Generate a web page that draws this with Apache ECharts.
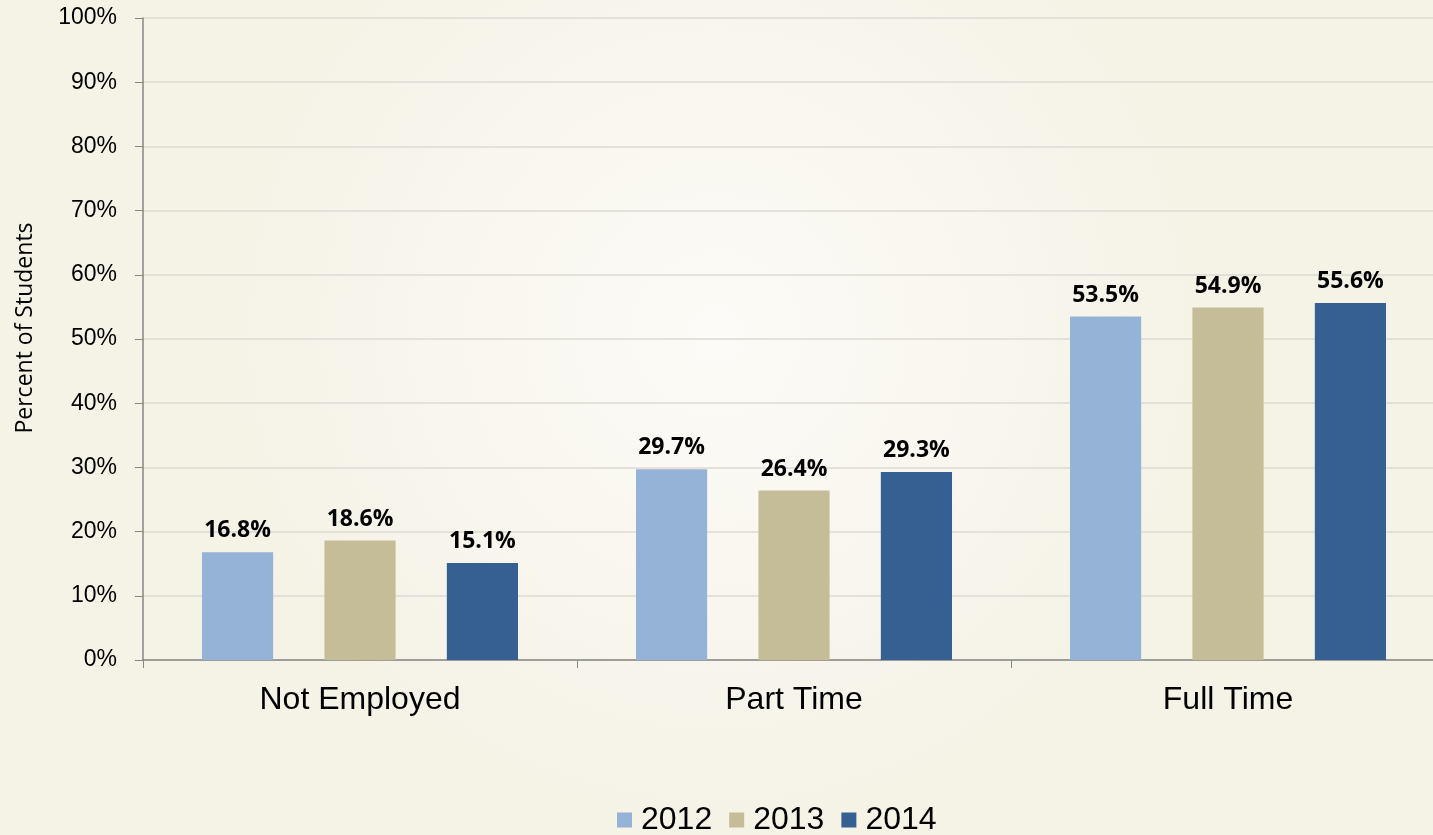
<!DOCTYPE html>
<html>
<head>
<meta charset="utf-8">
<script src="https://cdn.jsdelivr.net/npm/echarts@6/dist/echarts.min.js"></script>
<style>
  html, body { margin: 0; padding: 0; }
  #chart { width: 1433px; height: 835px; }
</style>
</head>
<body>
<div id="chart"></div>
<script>
var categories = ['Not Employed', 'Part Time', 'Full Time']
var years = ['2012', '2013', '2014']
var values2012 = [16.8, 29.7, 53.5]
var values2013 = [18.6, 26.4, 54.9]
var values2014 = [15.1, 29.3, 55.6]
var yTicks = [0, 10, 20, 30, 40, 50, 60, 70, 80, 90, 100]

var colors = ['#95B3D7', '#C4BD97', '#366092']
var seriesValues = [values2012, values2013, values2014]

var chart = echarts.init(document.getElementById('chart'))

var series = years.map(function (y, i) {
    return {
        name: y,
        type: 'bar',
        data: seriesValues[i],
        barWidth: '16.4%',
        barGap: '72%',
        itemStyle: { color: colors[i] },
        label: {
            show: true,
            position: 'top',
            distance: 10,
            formatter: function (p) { return p.value.toFixed(1) + '%' },
            fontFamily: 'Open Sans',
            fontWeight: 'bold',
            fontSize: 23,
            color: '#000'
        }
    }
})

chart.setOption({
    animation: false,
    backgroundColor: {
        type: 'radial', x: 0.5, y: 0.4, r: 0.6,
        colorStops: [
            { offset: 0, color: '#FCFBF7' },
            { offset: 1, color: '#F5F2E6' }
        ]
    },
    grid: { left: 143, width: 1302, top: 18, bottom: 175, containLabel: false, outerBoundsMode: 'none' },
    legend: {
        data: years,
        top: 799,
        left: 612,
        icon: 'rect',
        itemWidth: 15,
        itemHeight: 15,
        itemGap: 17,
        textStyle: { fontFamily: 'Liberation Sans', fontSize: 32, color: '#000', padding: [0, 0, 0, 4] }
    },
    xAxis: {
        type: 'category',
        data: categories,
        axisLine: { lineStyle: { color: '#868686', width: 1.5 } },
        axisTick: { show: true, length: 8, lineStyle: { color: '#868686' } },
        axisLabel: { fontFamily: 'Liberation Sans', fontSize: 32, color: '#000', margin: 24 }
    },
    yAxis: {
        type: 'value',
        min: 0,
        max: 100,
        interval: 10,
        name: 'Percent of Students',
        nameLocation: 'middle',
        nameGap: 106,
        nameTextStyle: { fontFamily: 'Open Sans', fontSize: 23, color: '#000', padding: [0, 0, 0, 22] },
        axisLine: { show: true, lineStyle: { color: '#868686', width: 1.5 } },
        axisTick: { show: true, length: 8, lineStyle: { color: '#868686' } },
        axisLabel: {
            fontFamily: 'Liberation Sans', fontSize: 23, color: '#000', margin: 26,
            formatter: function (v) { return yTicks.indexOf(v) >= 0 ? v + '%' : '' }
        },
        splitLine: { lineStyle: { color: '#DCDAD3', width: 1.5 } }
    },
    series: series
})
</script>
</body>
</html>
